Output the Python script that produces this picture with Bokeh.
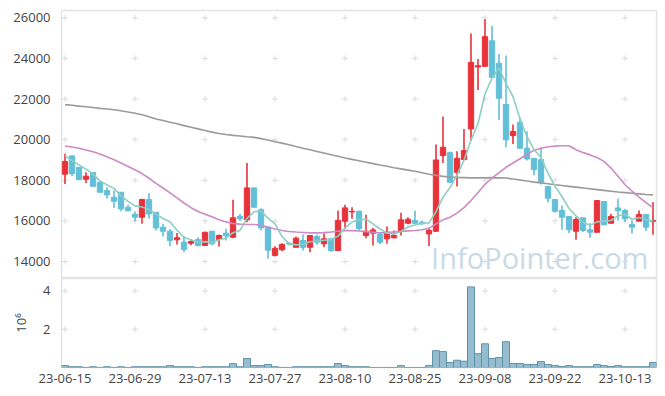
from bokeh.plotting import figure
from bokeh.layouts import column
from bokeh.models import Range1d, FixedTicker, Label, ColumnDataSource
from bokeh.embed import file_html
from bokeh.resources import INLINE
import itertools

# ---------------- data ----------------
tick_idx = [0, 10, 20, 30, 40, 50, 60, 70, 80]
tick_labels = ["23-06-15", "23-06-29", "23-07-13", "23-07-27", "23-08-10",
               "23-08-25", "23-09-08", "23-09-22", "23-10-13"]
price_ticks = [14000, 16000, 18000, 20000, 22000, 24000, 26000]
vol_ticks = [2, 4]

open_ = [18300, 19200, 18640, 18050, 18380, 17900, 17490, 17165, 17410, 16670,
         16330, 16180, 17050, 16425, 15690, 15490, 15070, 14950, 14900, 15080,
         14790, 15490, 15080, 15395, 15195, 16230, 16050, 17625, 16550, 15700,
         14300, 14580, 14900, 14700, 15030, 14700, 15230, 14870, 15115, 14540,
         15985, 16440, 16475, 15280, 15395, 15330, 15115, 15165, 15475, 15885,
         16015, 15935, 15360, 15490, 19215, 19360, 18390, 19020, 20530, 23580,
         23610, 24870, 23760, 21730, 20200, 20850, 19575, 19080, 19015, 17690,
         17050, 16510, 16215, 15490, 16150, 15560, 15440, 16950, 15885, 16640,
         16510, 15820, 15985, 16310, 15985]
high = [19300, 19215, 18650, 18390, 18400, 17920, 17655, 17490, 17420, 16800,
        16460, 17085, 17360, 16430, 15855, 15600, 15400, 15230, 15100, 15200,
        15460, 15500, 15330, 15610, 17035, 16345, 18855, 17650, 16620, 15720,
        14750, 14900, 14960, 15230, 15330, 15300, 15330, 15380, 15140, 16510,
        16800, 16670, 16500, 16300, 15660, 15450, 15720, 15525, 16395, 16180,
        16510, 16015, 15640, 19760, 21135, 19420, 19425, 20530, 25230, 23970,
        25940, 25610, 24220, 24140, 20740, 21100, 20410, 19090, 19625, 17700,
        17060, 16755, 16230, 16180, 16160, 15900, 17000, 16960, 16345, 17085,
        16600, 16015, 16510, 16320, 16920]
low = [17820, 18200, 18000, 17870, 17700, 17410, 17085, 16640, 16475, 16495,
       15980, 15855, 16100, 15525, 15230, 14750, 14840, 14460, 14800, 14740,
       14780, 14800, 14740, 15030, 15165, 16000, 15935, 16650, 15525, 14130,
       14250, 14500, 14800, 14690, 14540, 14450, 14820, 14700, 14480, 14540,
       15600, 16100, 15530, 15150, 14790, 14850, 14870, 15150, 15280, 15840,
       15820, 15800, 14760, 15450, 18855, 17880, 17690, 19000, 19950, 22450,
       23600, 23050, 20970, 19625, 19790, 19560, 18970, 18245, 17790, 16900,
       16400, 15560, 15400, 15065, 15450, 15165, 15440, 15805, 15880, 16015,
       15950, 15380, 15980, 15500, 15315]
close = [18920, 18320, 18030, 18200, 17700, 17410, 17280, 16965, 16590, 16495,
         16180, 17050, 16345, 15655, 15490, 15030, 15170, 14590, 14985, 14790,
         15440, 14870, 15280, 15265, 16150, 16100, 17625, 16670, 15650, 14560,
         14650, 14840, 14860, 15150, 14700, 15280, 14950, 15115, 14540, 16020,
         16640, 16470, 15610, 15490, 15555, 14950, 15440, 15280, 16050, 16080,
         15885, 15855, 15525, 19000, 19625, 17900, 19080, 19460, 23805, 23640,
         25070, 23070, 22040, 19990, 20395, 19575, 19050, 18525, 17900, 17115,
         16475, 16180, 15560, 16065, 15525, 15440, 17000, 15805, 16215, 16510,
         16100, 15690, 16310, 15690, 16020]
ma5 = [19215, 18970, 18760, 18550, 18300, 17960, 17780, 17600, 17230, 16960,
       16740, 16680, 16560, 16330, 16120, 15960, 15540, 15200, 15060, 14960,
       14980, 14940, 15070, 15150, 15420, 15530, 16120, 16450, 16480, 16130,
       15850, 15230, 14880, 14820, 14850, 14970, 15010, 15050, 15080, 15250,
       15650, 15950, 16050, 16080, 15850, 15600, 15400, 15350, 15480, 15700,
       15800, 15880, 15900, 16450, 17170, 17640, 18250, 18990, 19980, 20780,
       22250, 23030, 23540, 22760, 22120, 21020, 20150, 19510, 19110, 18350,
       17700, 17200, 16620, 16250, 15930, 15780, 15950, 15990, 16020, 16250,
       16330, 16080, 16170, 16060, 15990]
ma20 = [19690, 19640, 19580, 19490, 19400, 19290, 19160, 19010, 18850, 18680,
        18520, 18330, 18100, 17850, 17620, 17380, 17130, 16880, 16650, 16460,
        16330, 16200, 16060, 15950, 15870, 15840, 15820, 15820, 15780, 15690,
        15600, 15530, 15480, 15450, 15430, 15410, 15410, 15420, 15450, 15490,
        15520, 15520, 15500, 15470, 15440, 15410, 15420, 15450, 15480, 15510,
        15530, 15560, 15630, 15850, 16050, 16180, 16380, 16650, 17000, 17400,
        17800, 18100, 18380, 18640, 18850, 19060, 19280, 19470, 19580, 19650,
        19680, 19700, 19700, 19500, 19370, 19250, 19120, 18930, 18600, 18200,
        17780, 17470, 17165, 16900, 16650]
ma120 = [21725, 21690, 21650, 21620, 21580, 21540, 21510, 21470, 21420, 21360,
         21300, 21230, 21130, 21020, 20940, 20860, 20780, 20690, 20610, 20530,
         20450, 20370, 20300, 20250, 20210, 20180, 20140, 20110, 20050, 19980,
         19900, 19830, 19750, 19660, 19580, 19500, 19420, 19340, 19260, 19180,
         19100, 19030, 18960, 18890, 18820, 18750, 18690, 18620, 18560, 18500,
         18440, 18370, 18300, 18240, 18190, 18160, 18140, 18130, 18120, 18120,
         18120, 18130, 18120, 18110, 18060, 18010, 17960, 17910, 17870, 17830,
         17780, 17740, 17700, 17660, 17620, 17580, 17540, 17500, 17460, 17420,
         17390, 17360, 17330, 17300, 17280]
volume = [0.10, 0.04, 0.04, 0.0, 0.04, 0.0, 0.04, 0.0, 0.04, 0.0,
          0.04, 0.04, 0.04, 0.04, 0.04, 0.10, 0.04, 0.04, 0.04, 0.0,
          0.04, 0.04, 0.04, 0.04, 0.20, 0.04, 0.47, 0.10, 0.10, 0.16,
          0.04, 0.0, 0.0, 0.04, 0.04, 0.04, 0.04, 0.04, 0.04, 0.21,
          0.10, 0.04, 0.04, 0.04, 0.0, 0.0, 0.0, 0.0, 0.10, 0.0,
          0.0, 0.0, 0.10, 0.88, 0.83, 0.26, 0.38, 0.33, 4.21, 0.72,
          1.24, 0.47, 0.52, 1.35, 0.21, 0.21, 0.16, 0.16, 0.31, 0.16,
          0.10, 0.05, 0.10, 0.04, 0.04, 0.04, 0.16, 0.10, 0.05, 0.10,
          0.04, 0.04, 0.04, 0.04, 0.26]

# ---------------- styling ----------------
RED = "#e8323a"
BLUE = "#63bfd8"
FONT = "Open Sans"
TXT = "#444444"
FRAME = "#e3e3e3"
CROSS = "#dcdcdc"

idx = list(range(len(close)))
colors = [RED if c >= o else BLUE for o, c in zip(open_, close)]
src = ColumnDataSource(dict(
    x=idx, open=open_, close=close, high=high, low=low,
    top=[max(o, c) for o, c in zip(open_, close)],
    bottom=[min(o, c) for o, c in zip(open_, close)],
    color=colors, ma5=ma5, ma20=ma20, ma120=ma120, vol=volume,
))

x_range = Range1d(-0.5, 84.5)

p = figure(width=658, height=278, x_range=x_range, y_range=Range1d(13163, 26359),
           output_backend="svg", toolbar_location=None,
           min_border_left=61, min_border_right=2, min_border_top=10, min_border_bottom=0)
p.xaxis.visible = False
p.grid.visible = False
p.outline_line_color = FRAME
p.outline_line_width = 1.5
p.background_fill_color = "white"
p.border_fill_color = "white"
yax = p.yaxis[0]
yax.ticker = FixedTicker(ticks=price_ticks)
yax.axis_line_color = None
yax.major_tick_line_color = None
yax.minor_tick_line_color = None
yax.major_label_text_font = FONT
yax.major_label_text_font_size = "13px"
yax.major_label_text_color = TXT
yax.major_label_standoff = 5

# grid crosses at tick intersections
cx, cy = zip(*itertools.product(tick_idx, price_ticks))
p.scatter(list(cx), list(cy), marker="cross", size=6, line_color=CROSS, line_width=1)

p.segment(x0="x", y0="high", x1="x", y1="low", color="color", line_width=1.6, source=src)
p.vbar(x="x", top="top", bottom="bottom", width=0.76, fill_color="color",
       line_color="color", line_width=1, source=src)
p.line("x", "ma120", source=src, line_color="#9a9a9a", line_width=1.6)
p.line("x", "ma20", source=src, line_color="#cc8ac6", line_width=1.6)
p.line("x", "ma5", source=src, line_color="#8ccfc3", line_width=1.6)

p.add_layout(Label(x=52.3, y=14200, text="InfoPointer.com", text_font=FONT,
                   text_font_size="29px", text_color="#c9dae6",
                   text_baseline="alphabetic"))

# ---------------- volume panel ----------------
pv = figure(width=658, height=111, x_range=x_range, y_range=Range1d(0, 4.65),
            output_backend="svg", toolbar_location=None,
            min_border_left=61, min_border_right=2, min_border_top=0, min_border_bottom=22)
pv.grid.visible = False
pv.outline_line_color = FRAME
pv.outline_line_width = 1.5
pv.background_fill_color = "white"
pv.border_fill_color = "white"
vx = pv.xaxis[0]
vx.ticker = FixedTicker(ticks=tick_idx)
vx.major_label_overrides = {i: s for i, s in zip(tick_idx, tick_labels)}
vx.axis_line_color = None
vx.major_tick_line_color = None
vx.minor_tick_line_color = None
vx.major_label_text_font = FONT
vx.major_label_text_font_size = "13px"
vx.major_label_text_color = TXT
vx.major_label_standoff = 0
vy = pv.yaxis[0]
vy.ticker = FixedTicker(ticks=vol_ticks)
vy.axis_line_color = None
vy.major_tick_line_color = None
vy.minor_tick_line_color = None
vy.major_label_text_font = FONT
vy.major_label_text_font_size = "13px"
vy.major_label_text_color = TXT
vy.major_label_standoff = 5
vy.axis_label = "10⁶"
vy.axis_label_text_font = FONT
vy.axis_label_text_font_size = "13px"
vy.axis_label_text_font_style = "normal"
vy.axis_label_text_color = TXT
vy.axis_label_standoff = 10

vcx, vcy = zip(*itertools.product(tick_idx, vol_ticks))
pv.scatter(list(vcx), list(vcy), marker="cross", size=6, line_color=CROSS, line_width=1)
pv.vbar(x="x", top="vol", bottom=0, width=1.0, fill_color="#95bdcf",
        line_color="#5f93ab", line_width=1, source=src)

layout = column(p, pv, spacing=0)
open("out.html", "w").write(file_html(layout, INLINE))
